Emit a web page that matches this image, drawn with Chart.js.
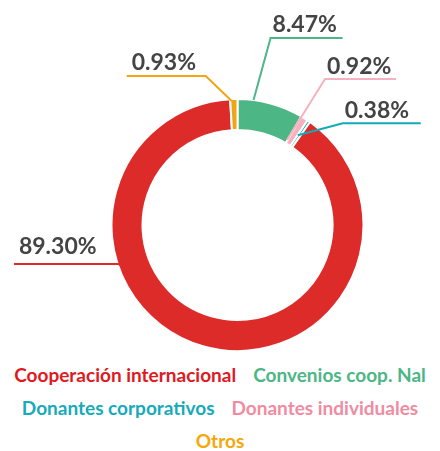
<!DOCTYPE html>
<html>
<head>
<meta charset="utf-8">
<script src="https://cdn.jsdelivr.net/npm/chart.js@4.4.0/dist/chart.umd.min.js"></script>
<style>
  body { margin: 0; background: #fff; }
  #wrap { position: relative; width: 440px; height: 358px; }
  #legend {
    display: flex; flex-wrap: wrap; justify-content: center; column-gap: 17px;
    width: 440px; font: bold 19px Lato, sans-serif; line-height: 33px;
  }
</style>
</head>
<body>
<div id="wrap"><canvas id="funding-chart"></canvas></div>
<div id="legend"></div>
<script>
// slices in drawing order, clockwise from 12 o'clock
const categories = ["Convenios coop. Nal", "Donantes individuales", "Donantes corporativos", "Cooperación internacional", "Otros"];
const shares = [8.47, 0.92, 0.38, 89.30, 0.93];
const sliceColors = ["#4cb685", "#f4b2c0", "#14a9b9", "#dc2b28", "#f2a514"];
const legendColors = ["#4cb685", "#ef8ca1", "#16aabb", "#e0191f", "#f5a80a"];
const legendOrder = ["Cooperación internacional", "Convenios coop. Nal", "Donantes corporativos", "Donantes individuales", "Otros"];

// leader lines: where the line touches the ring (fraction along slice, fraction across ring),
// then the elbow offset and the horizontal run
const labelLayout = [
    { at: 0.24, r: 1.0, dx: 17, dy: -62, run: 72, lift: 6 },
    { at: -0.09, r: 0.11, dx: 38, dy: -61, run: 71, lift: 5 },
    { at: 0.07, r: 0.42, dx: 45, dy: -12, run: 78, lift: 5 },
    { at: 0.617, r: 0.57, dx: -28, dy: -28, run: -105, lift: 10 },
    { at: 0.2, r: 0.94, dx: -26, dy: -25, run: -79, lift: 6 },
];

const leaderLabels = {
    id: "leaderLabels",
    afterDatasetsDraw(chart) {
        const ctx = chart.ctx;
        const arcs = chart.getDatasetMeta(0).data;
        ctx.save();
        arcs.forEach((arc, i) => {
            const p = arc.getProps(["x", "y", "startAngle", "endAngle", "innerRadius", "outerRadius"], true);
            const lay = labelLayout[i];
            const a = p.startAngle + lay.at * (p.endAngle - p.startAngle);
            const r = p.innerRadius + lay.r * (p.outerRadius - p.innerRadius);
            const ax = p.x + r * Math.cos(a);
            const ay = p.y + r * Math.sin(a);
            const ex = ax + lay.dx;
            const ey = ay + lay.dy;
            const hx = ex + lay.run;
            ctx.strokeStyle = sliceColors[i];
            ctx.lineWidth = 2;
            ctx.beginPath();
            ctx.moveTo(ax, ay);
            ctx.lineTo(ex, ey);
            ctx.lineTo(hx, ey);
            ctx.stroke();
            //text sits on top of the horizontal run
            ctx.fillStyle = "#444444";
            ctx.font = "bold 23px Lato";
            ctx.textAlign = "left";
            ctx.textBaseline = "alphabetic";
            const tx = lay.run > 0 ? ex + 2 : hx + 5;
            ctx.fillText(shares[i].toFixed(2) + "%", tx, ey - lay.lift);
        });
        ctx.restore();
    }
};

const chart = new Chart(document.getElementById("funding-chart"), {
    type: "doughnut",
    data: {
        labels: categories,
        datasets: [{
            data: shares,
            backgroundColor: sliceColors,
            borderColor: "#ffffff",
            borderWidth: 2,
            hoverBorderWidth: 2,
            hoverOffset: 0,
            offset: 0,
        }],
    },
    options: {
        responsive: true,
        maintainAspectRatio: false,
        animation: false,
        cutout: "75.4%",
        layout: { padding: { left: 110.5, right: 75.5, top: 98, bottom: 6 } },
        plugins: {
            legend: { display: false },
            tooltip: { enabled: false },
        },
    },
    plugins: [leaderLabels],
});

//html legend, text coloured like the slices
const legendBox = document.getElementById("legend");
legendOrder.forEach(name => {
    const i = categories.indexOf(name);
    const item = document.createElement("span");
    item.textContent = name;
    item.style.color = legendColors[i];
    legendBox.appendChild(item);
});
</script>
</body>
</html>
